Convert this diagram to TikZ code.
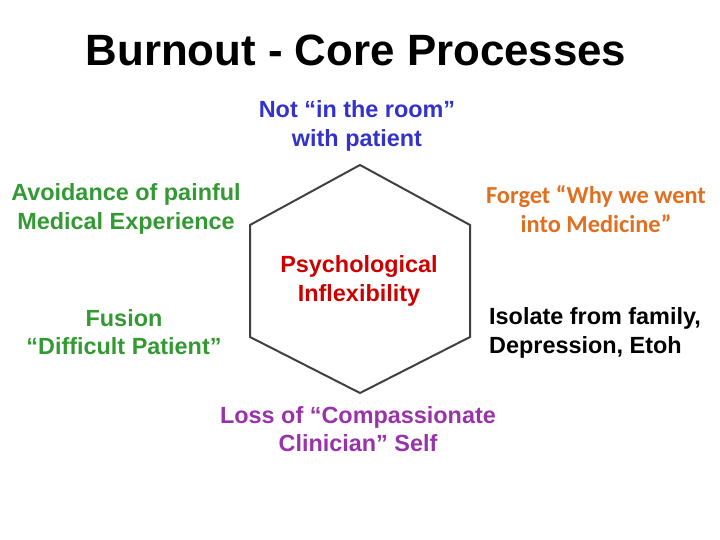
\documentclass[tikz,border=0pt]{standalone}
\usepackage{fontspec}
\setmainfont{Liberation Sans}
\newfontfamily\calib{Carlito}
\begin{document}
\begin{tikzpicture}[x=1bp,y=-1bp,font=\bfseries\fontsize{23.5}{28.5}\selectfont]
\definecolor{blueish}{RGB}{51,51,204}
\definecolor{orangeish}{RGB}{224,112,32}
\definecolor{greenish}{RGB}{51,153,51}
\definecolor{purpleish}{RGB}{153,51,170}
\definecolor{redish}{RGB}{204,0,0}
\tikzset{lbl/.style={align=center,inner sep=0pt}}
\useasboundingbox (0,0) rectangle (720,540);

% hexagon
\coordinate (ht) at (360,165);
\coordinate (hur) at (470,225);
\coordinate (hlr) at (470,337);
\coordinate (hb) at (360,393);
\coordinate (hll) at (250,337);
\coordinate (hul) at (250,225);
\draw[line width=2pt,color=black!75] (ht) -- (hur) -- (hlr) -- (hb) -- (hll) -- (hul) -- cycle;

\node[lbl,font=\bfseries\fontsize{44}{50}\selectfont] (title) at (356,50) {Burnout - Core Processes};
\node[lbl,text=blueish] (room) at (357,126) {Not “in the room”\\with patient};
\node[lbl,text=greenish] (avoid) at (126,209) {Avoidance of painful\\Medical Experience};
\node[lbl,text=orangeish,font=\calib\bfseries\fontsize{24.5}{28.5}\selectfont] (forget) at (596,209) {Forget “Why we went\\into Medicine”};
\node[lbl,text=redish] (psych) at (359,281) {Psychological\\Inflexibility};
\node[lbl,text=greenish] (fusion) at (124,332) {Fusion\\“Difficult Patient”};
\node[lbl,text=black,align=left,anchor=west] (isolate) at (489,333) {Isolate from family,\\Depression, Etoh};
\node[lbl,text=purpleish] (loss) at (358,429) {Loss of “Compassionate\\Clinician” Self};
\end{tikzpicture}
\end{document}
